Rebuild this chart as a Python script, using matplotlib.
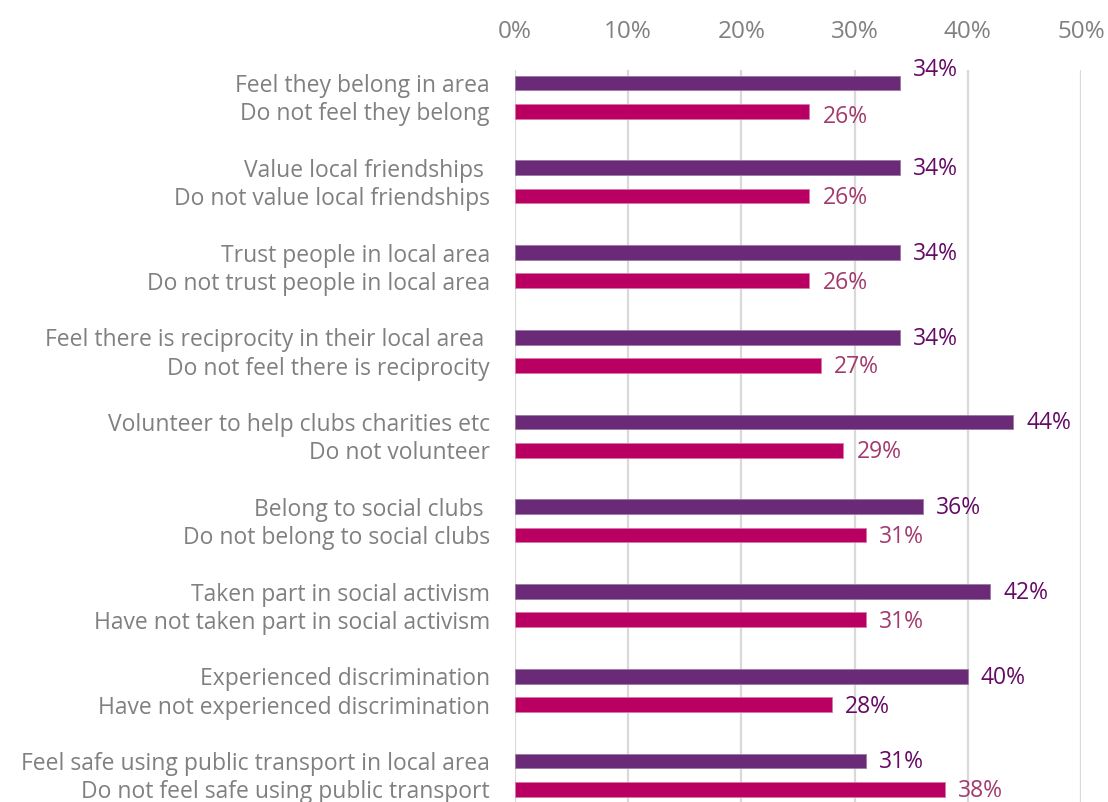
import numpy as np
import matplotlib.pyplot as plt

# survey groups, each pair: yes-group then no-group
yes_labels = ['Feel they belong in area', 'Value local friendships ', 'Trust people in local area',
              'Feel there is reciprocity in their local area ', 'Volunteer to help clubs charities etc',
              'Belong to social clubs ', 'Taken part in social activism', 'Experienced discrimination',
              'Feel safe using public transport in local area']
no_labels = ['Do not feel they belong', 'Do not value local friendships', 'Do not trust people in local area',
             'Do not feel there is reciprocity', 'Do not volunteer', 'Do not belong to social clubs',
             'Have not taken part in social activism', 'Have not experienced discrimination',
             'Do not feel safe using public transport']
yes_vals = [34, 34, 34, 34, 44, 36, 42, 40, 31]
no_vals = [26, 26, 26, 27, 29, 31, 31, 28, 38]

plt.rcParams['font.family'] = ['Open Sans', 'DejaVu Sans']

purple = '#6a2a78'
pink = '#b90062'
purple_txt = '#660a66'
pink_txt = '#a33a6e'
grey = '#808080'

fig = plt.figure(figsize=(11.08, 8.02), dpi=100)
ax = fig.add_axes([515/1108, 0, 566/1108, 732/802])

n = len(yes_vals)
y_yes = np.arange(n) * 3
y_no = y_yes + 1

ax.barh(y_yes, yes_vals, height=0.52, color=purple, edgecolor='#9a7aa3', linewidth=0.6, zorder=3)
ax.barh(y_no, no_vals, height=0.52, color=pink, edgecolor='#d77aa8', linewidth=0.6, zorder=3)

for i in range(n):
    dy_yes = -0.45 if i == 0 else 0.05
    dy_no = 0.2 if i == 0 else 0.07
    ax.annotate(f'{yes_vals[i]}%', (yes_vals[i], y_yes[i] + dy_yes), xytext=(9.5, 0),
                textcoords='offset points', va='center', ha='left', fontsize=16.5, color=purple_txt)
    c = purple_txt if i == 7 else pink_txt
    ax.annotate(f'{no_vals[i]}%', (no_vals[i], y_no[i] + dy_no), xytext=(9.5, 0),
                textcoords='offset points', va='center', ha='left', fontsize=16.5, color=c)

ax.set_xlim(0, 50)
ax.set_ylim(25.45, -0.46)
ax.set_xticks(np.arange(0, 51, 10))
ax.set_xticklabels([f'{v}%' for v in range(0, 51, 10)], fontsize=17.5)
ax.xaxis.tick_top()
ax.set_yticks(np.concatenate([y_yes, y_no]))
ax.set_yticklabels(yes_labels + no_labels, fontsize=16.5)
ax.tick_params(axis='both', length=0, labelcolor=grey)
ax.tick_params(axis='y', pad=18)
ax.tick_params(axis='x', pad=19)
ax.grid(axis='x', color='#d9d9d9', linewidth=1.6, zorder=0)
for s in ax.spines.values():
    s.set_visible(False)

fig.savefig('out.png', dpi=100)
